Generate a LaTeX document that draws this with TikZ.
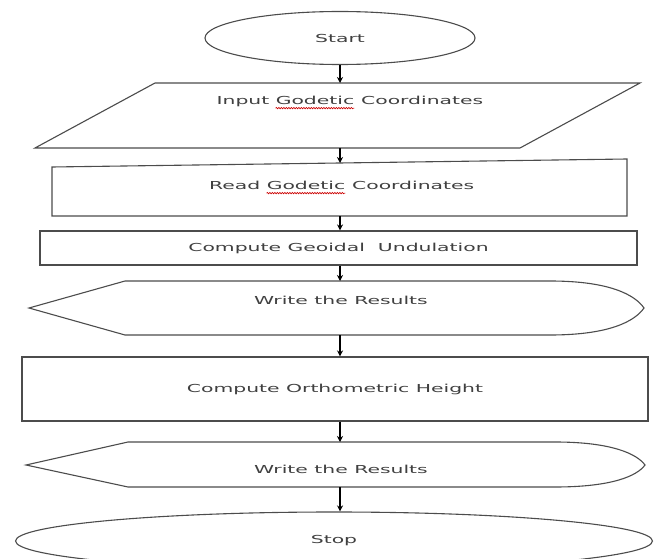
\documentclass[tikz,border=0pt]{standalone}
\usepackage{fontspec}
\newfontfamily\flowfont[FakeStretch=1.85]{DejaVu Sans}
\usetikzlibrary{arrows.meta,shapes.geometric,decorations.pathmorphing,calc}
\begin{document}
\begin{tikzpicture}[x=1pt,y=-1pt,
  shapeline/.style={draw=black!70, line width=1.1pt, fill=white},
  txt/.style={font=\flowfont\fontsize{11}{13}\selectfont, text=black!75, inner sep=0pt},
  flow/.style={-{Stealth[length=6pt,width=6pt]}, line width=1.3pt, black},
  spell/.style={draw=red!80!black, line width=0.6pt, decorate, decoration={snake, amplitude=0.7pt, segment length=2.5pt}}
]
\useasboundingbox (0,0) rectangle (656,559);
\begin{scope}
\clip (0,0) rectangle (656,559);
% Start
\node[ellipse, shapeline, txt, minimum width=270pt, minimum height=53pt] (start) at (340,38) {Start};
% Input parallelogram
\draw[shapeline] (155,83) -- (640,83) -- (520,148) -- (35,148) -- cycle;
\coordinate (inT) at (340,83);
\coordinate (inB) at (340,148);
\node[txt] (inG) at (315,100) {Godetic};
\node[txt, anchor=base east] (inA) at ([xshift=-6pt]inG.base west) {Input};
\node[txt, anchor=base west] (inC) at (inG.base east) {\ Coordinates};
\draw[spell] ($(inG.base west)+(0,4)$) -- ($(inG.base east)+(0,4)$);
% Read
\draw[shapeline] (52,167) -- (627,159) -- (627,216) -- (52,216) -- cycle;
\coordinate (readT) at (340,163);
\coordinate (readB) at (340,216);
\node[txt] (rdG) at (306,185) {Godetic};
\node[txt, anchor=base east] (rdA) at ([xshift=-6pt]rdG.base west) {Read};
\node[txt, anchor=base west] (rdC) at (rdG.base east) {\ Coordinates};
\draw[spell] ($(rdG.base west)+(0,4)$) -- ($(rdG.base east)+(0,4)$);
% Compute Geoidal
\node[shapeline, txt, minimum width=597pt, minimum height=34pt] (geo) at (338.5,248) {Compute Geoidal\ \ Undulation};
% Write 1
\draw[shapeline] (125,281) -- (550,281) .. controls (610,281) and (635,295) .. (644,308)
  .. controls (635,321) and (610,335) .. (550,335) -- (125,335) -- (29,308) -- cycle;
\coordinate (w1T) at (340,281);
\coordinate (w1B) at (340,335);
\node[txt] (w1) at (341,300) {Write the Results};
% Compute Orthometric
\node[shapeline, txt, minimum width=626pt, minimum height=64pt] (ortho) at (335,389) {Compute Orthometric Height};
% Write 2
\draw[shapeline] (128,442) -- (555,442) .. controls (612,442) and (637,454) .. (645,465)
  .. controls (637,476) and (612,487) .. (555,487) -- (128,487) -- (26,465) -- cycle;
\coordinate (w2T) at (340,442);
\coordinate (w2B) at (340,487);
\node[txt] (w2) at (341,469) {Write the Results};
% Stop
\node[ellipse, shapeline, txt, minimum width=637pt, minimum height=58pt] (stop) at (334,541) {Stop};
% Arrows
\draw[flow] (start.south -| inT) -- (inT);
\draw[flow] (inB) -- (readT);
\draw[flow] (readB) -- (readB |- geo.north);
\draw[flow] (geo.south -| w1T) -- (w1T);
\draw[flow] (w1B) -- (w1B |- ortho.north);
\draw[flow] (ortho.south -| w2T) -- (w2T);
\draw[flow] (w2B) -- (w2B |- stop.north);
\end{scope}
\end{tikzpicture}
\end{document}
